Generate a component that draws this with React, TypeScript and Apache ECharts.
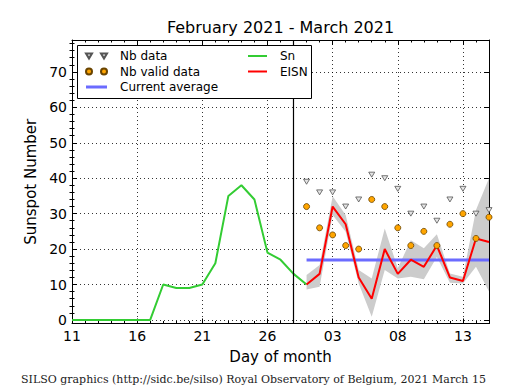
import React, { useEffect, useRef } from 'react';
import * as echarts from 'echarts';

// x positions: day index, 0 = 11 February 2021, 32 = 15 March 2021
const xTickLabels = ['11', '16', '21', '26', '03', '08', '13'];
const yMajorTicks = [0, 10, 20, 30, 40, 50, 60, 70];
const yMinorTicks = [2, 4, 6, 8, 12, 14, 16, 18, 22, 24, 26, 28, 32, 34, 36, 38, 42, 44, 46, 48, 52, 54, 56, 58, 62, 64, 66, 68, 72, 74, 76, 78];

const snFirstDay = 0; // Feb 11
const snValues = [0, 0, 0, 0, 0, 0, 0, 10, 9, 9, 10, 16, 35, 38, 34, 19, 17, 13, 10];

const recentFirstDay = 18; // Mar 1
const eisnValues = [10, 13, 32, 27, 12, 6, 20, 13, 17, 15, 21, 12, 11, 23, 22];
const eisnUpper = [12.7, 15.5, 34.9, 29.6, 14.1, 11.7, 25.8, 14.6, 22.5, 20.2, 24.2, 13.1, 12.2, 31, 40];
const eisnLower = [8.6, 9.4, 29.6, 24.9, 10.3, 0.9, 14.1, 11.7, 12.2, 11.5, 17.8, 10.5, 10.3, 15, 8];
const nbData = [39, 36, 36, 32, 34, 41, 40, 37, 30, 32, 28, 34, 37, 30, 31];
const nbValidData = [32, 26, 24, 21, 20, 34, 32, 26, 21, 25, 21, 27, 30, 23, 29];
const currentAverage = 16.9;
const dividerDay = 17; // Feb 28

const FONT = 'DejaVu Sans';

export default function App() {
  const ref = useRef<HTMLDivElement>(null);
  useEffect(() => {
    const chart = echarts.init(ref.current!, null, { renderer: 'svg' });
    const snData = snValues.map((v, i) => [snFirstDay + i, v]);
    const rx = (i: number) => recentFirstDay + i;
    const eisnData = eisnValues.map((v, i) => [rx(i), v]);
    const bandData = eisnLower.map((v, i) => [rx(i), v, eisnUpper[i]]);
    const nbPts = nbData.map((v, i) => [rx(i), v]);
    const nbValidPts = nbValidData.map((v, i) => [rx(i), v]);
    const avgData = [[rx(0), currentAverage], [rx(eisnValues.length - 1), currentAverage]];

    const yBase = {
      type: 'value', min: -1, max: 79,
      splitLine: { show: false },
      axisLabel: { show: false },
      axisLine: { show: false },
    };
    const xBase = {
      type: 'value', min: 0, max: 32, interval: 5,
      splitLine: { show: false },
      axisLabel: { show: false },
    };

    chart.setOption({
      animation: false,
      backgroundColor: '#fff',
      grid: { left: 72, top: 40, right: 26, bottom: 66.5, containLabel: false },
      xAxis: [
        {
          ...xBase,
          position: 'bottom',
          axisLine: { show: true, onZero: false, lineStyle: { color: '#000', width: 1 } },
          axisTick: { show: true, inside: true, length: 5, lineStyle: { color: '#000' } },
          minorTick: { show: true, splitNumber: 5, length: 2.5, lineStyle: { color: '#000' } },
          axisLabel: {
            show: true, fontSize: 14, fontFamily: FONT, color: '#000', margin: 5,
            formatter: (v: number) => (v % 5 === 0 ? xTickLabels[v / 5] ?? '' : ''),
          },
          splitLine: { show: true, lineStyle: { color: '#000', width: 0.8, type: [1, 3] } },
          name: 'Day of month', nameLocation: 'middle', nameGap: 26,
          nameTextStyle: { fontSize: 15, fontFamily: FONT, color: '#000' },
        },
        {
          ...xBase,
          position: 'top',
          axisLine: { show: true, onZero: false, lineStyle: { color: '#000', width: 1 } },
          axisTick: { show: true, inside: true, length: 5, lineStyle: { color: '#000' } },
          minorTick: { show: true, splitNumber: 5, length: 2.5, lineStyle: { color: '#000' } },
        },
      ],
      yAxis: [
        {
          ...yBase,
          position: 'left',
          axisLine: { show: true, onZero: false, lineStyle: { color: '#000', width: 1 } },
          axisTick: { show: true, inside: true, length: 5, customValues: yMajorTicks, lineStyle: { color: '#000' } },
          axisLabel: { show: true, customValues: yMajorTicks, fontSize: 14, fontFamily: FONT, color: '#000', margin: 5 },
          splitLine: { show: true, lineStyle: { color: '#000', width: 0.8, type: [1, 3] } },
          name: 'Sunspot Number', nameLocation: 'middle', nameGap: 31,
          nameTextStyle: { fontSize: 15, fontFamily: FONT, color: '#000' },
        },
        {
          ...yBase,
          position: 'left',
          axisTick: { show: true, inside: true, length: 2.5, customValues: yMinorTicks, lineStyle: { color: '#000' } },
        },
        {
          ...yBase,
          position: 'right',
          axisLine: { show: true, onZero: false, lineStyle: { color: '#000', width: 1 } },
          axisTick: { show: true, inside: true, length: 5, customValues: yMajorTicks, lineStyle: { color: '#000' } },
        },
        {
          ...yBase,
          position: 'right',
          axisTick: { show: true, inside: true, length: 2.5, customValues: yMinorTicks, lineStyle: { color: '#000' } },
        },
      ],
      legend: [
        {
          left: 85, top: 50, padding: 0, orient: 'vertical', itemWidth: 29, itemHeight: 6, itemGap: 3.5,
          selectedMode: false, z: 10,
          textStyle: { fontSize: 12, fontFamily: FONT, color: '#000' },
          data: [
            { name: 'Nb data', icon: 'path://M0,0L6,0L3,5Z M15,0L21,0L18,5Z M29,0L29,0' },
            { name: 'Nb valid data', icon: 'path://M0,3A3,3 0 1,0 6,3A3,3 0 1,0 0,3Z M15,3A3,3 0 1,0 21,3A3,3 0 1,0 15,3Z M29,3L29,3' },
            { name: 'Current average', icon: 'path://M0,0L21,0L21,3L0,3Z M29,1L29,1' },
          ],
        },
        {
          left: 248, top: 50, padding: 0, orient: 'vertical', itemWidth: 27, itemHeight: 6, itemGap: 3.5,
          selectedMode: false, z: 10,
          textStyle: { fontSize: 12, fontFamily: FONT, color: '#000' },
          data: [
            { name: 'Sn', icon: 'path://M0,0L19,0L19,2L0,2Z M27,1L27,1' },
            { name: 'EISN', icon: 'path://M0,0L19,0L19,2L0,2Z M27,1L27,1' },
          ],
        },
      ],
      graphic: [
        {
          type: 'rect', z: 9,
          shape: { x: 77.5, y: 45.5, width: 234, height: 53 },
          style: { fill: '#fff', stroke: '#000', lineWidth: 1 },
        },
        {
          type: 'text', x: 280.5, y: 27,
          style: { text: 'February 2021 - March 2021', align: 'center', verticalAlign: 'middle', fontSize: 16, fontFamily: FONT, fill: '#000' },
        },
        {
          type: 'text', x: 21, y: 379,
          style: { text: 'SILSO graphics (http://sidc.be/silso) Royal Observatory of Belgium, 2021 March 15', align: 'left', verticalAlign: 'middle', fontSize: 11, fontFamily: 'DejaVu Serif', fill: '#222' },
        },
      ],
      series: [
        {
          name: 'band', type: 'custom', z: 1, silent: true,
          data: bandData,
          encode: { x: 0, y: [1, 2] },
          renderItem: (params: any, api: any) => {
            if (params.dataIndex !== 0) return null;
            const top = bandData.map((d) => api.coord([d[0], d[2]]));
            const bottom = bandData.map((d) => api.coord([d[0], d[1]])).reverse();
            return {
              type: 'polygon',
              shape: { points: top.concat(bottom) },
              style: { fill: '#cccccc', stroke: 'none' },
            };
          },
        },
        {
          name: 'Current average', type: 'line', z: 2, data: avgData, symbol: 'none',
          lineStyle: { color: '#6b6bff', width: 3 }, itemStyle: { color: '#6b6bff' },
        },
        {
          name: 'Sn', type: 'line', z: 3, data: snData, symbol: 'none',
          lineStyle: { color: '#33cc33', width: 2 }, itemStyle: { color: '#33cc33' },
          markLine: {
            silent: true, symbol: 'none', label: { show: false },
            lineStyle: { color: '#000', width: 1.2, type: 'solid' },
            data: [{ xAxis: dividerDay }],
          },
        },
        {
          name: 'EISN', type: 'line', z: 3, data: eisnData, symbol: 'none',
          lineStyle: { color: '#ff0000', width: 2 }, itemStyle: { color: '#ff0000' },
        },
        {
          name: 'Nb data', type: 'scatter', z: 4, data: nbPts, symbol: 'triangle', symbolRotate: 180,
          symbolSize: [6, 5], itemStyle: { color: '#e4e4e4', borderColor: '#555555', borderWidth: 0.8, opacity: 1 },
        },
        {
          name: 'Nb valid data', type: 'scatter', z: 5, data: nbValidPts, symbol: 'circle',
          symbolSize: 6, itemStyle: { color: '#ffa500', borderColor: '#6a4400', borderWidth: 0.8, opacity: 1 },
        },
      ],
    });
    return () => chart.dispose();
  }, []);
  return <div ref={ref} style={{ position: 'fixed', left: 0, top: 0, width: 515, height: 390, background: '#fff' }} />;
}
